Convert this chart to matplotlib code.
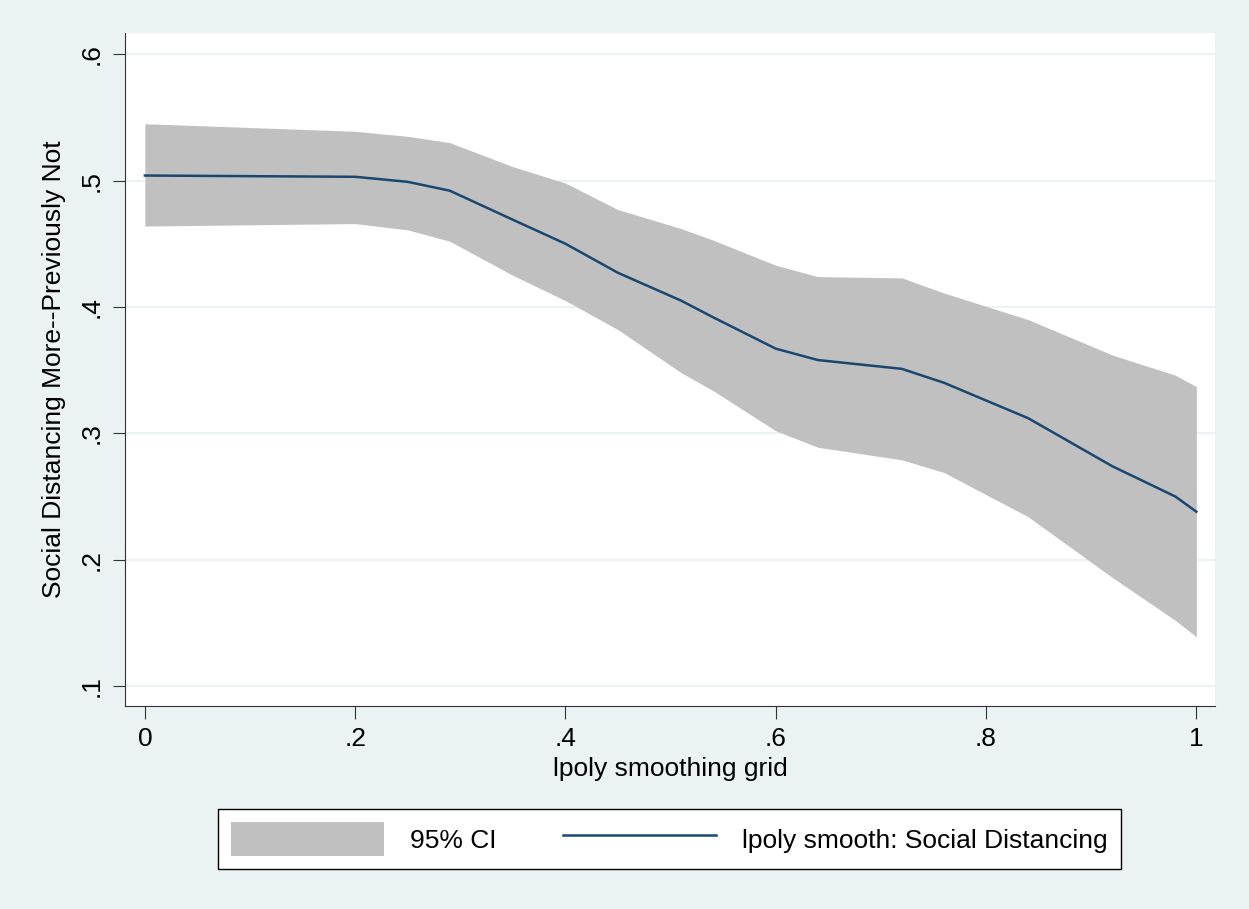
import matplotlib.pyplot as plt
import numpy as np

# values
grid_x = [0, 0.2, 0.25, 0.29, 0.35, 0.4, 0.45, 0.51, 0.54, 0.6, 0.64, 0.72, 0.76, 0.84, 0.92, 0.98, 1.0]
smooth = [0.504, 0.503, 0.499, 0.492, 0.469, 0.450, 0.427, 0.405, 0.392, 0.367, 0.358, 0.351, 0.340, 0.312, 0.274, 0.250, 0.238]
ci_hi = [0.545, 0.539, 0.535, 0.530, 0.511, 0.498, 0.477, 0.462, 0.453, 0.433, 0.424, 0.423, 0.411, 0.390, 0.362, 0.346, 0.337]
ci_lo = [0.464, 0.466, 0.461, 0.452, 0.425, 0.405, 0.382, 0.348, 0.334, 0.302, 0.289, 0.279, 0.269, 0.234, 0.186, 0.152, 0.139]

BG = '#eaf2f3'
plt.rcParams['font.family'] = 'Liberation Sans'

fig = plt.figure(figsize=(12.49, 9.09), dpi=100, facecolor=BG)
ax = fig.add_axes([0.100, 0.223, 0.873, 0.741])
ax.set_facecolor('white')

ci = ax.fill_between(grid_x, ci_lo, ci_hi, color='#c0c0c0', linewidth=0, label='95% CI')
ln, = ax.plot(grid_x, smooth, color='#1a476f', linewidth=1.8, label='lpoly smooth: Social Distancing')

ax.set_xlim(-0.019, 1.018)
ax.set_ylim(0.084, 0.617)
ax.set_xticks([0, 0.2, 0.4, 0.6, 0.8, 1])
ax.set_xticklabels(['0', '.2', '.4', '.6', '.8', '1'])
yt = [0.1, 0.2, 0.3, 0.4, 0.5, 0.6]
ax.set_yticks(yt)
ax.set_yticklabels(['.1', '.2', '.3', '.4', '.5', '.6'], rotation=90, va='center')
for y in yt:
    ax.axhline(y, color='#eaf2f3', linewidth=1.5, zorder=0)
ax.tick_params(labelsize=19, length=9, color='#333333', pad=6)
for s in ['top', 'right']:
    ax.spines[s].set_visible(False)
for s in ['left', 'bottom']:
    ax.spines[s].set_color('#333333')
ax.set_xlabel('lpoly smoothing grid', fontsize=19, labelpad=4)
ax.set_ylabel('Social Distancing More--Previously Not', fontsize=19, labelpad=10)

leg = fig.legend(handles=[ci, ln], loc='center', bbox_to_anchor=(0.536, 0.077), ncol=2,
                 fontsize=19, frameon=True, fancybox=False, edgecolor='black', framealpha=1,
                 handlelength=5.8, handleheight=1.6, columnspacing=2.5, handletextpad=1.0,
                 borderpad=0.5)
leg.get_frame().set_linewidth(1.0)
leg.get_frame().set_facecolor('white')

fig.savefig('out.png', dpi=100, facecolor=BG)
